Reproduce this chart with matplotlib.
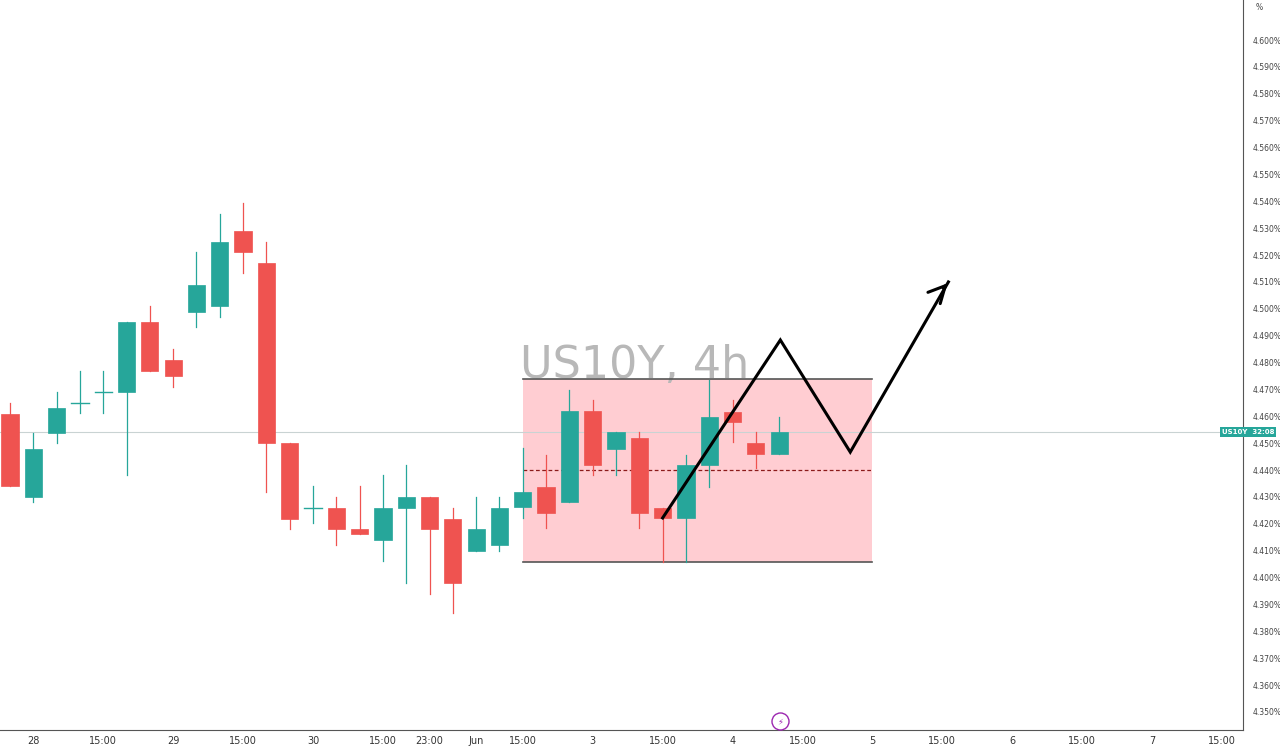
import matplotlib
matplotlib.use("Agg")
import matplotlib.pyplot as plt
from matplotlib.patches import Rectangle

# 4h candles, yields in %
opens = [4.4609, 4.4300, 4.4538, 4.4648, 4.4690, 4.4690, 4.4951, 4.4810, 4.4988, 4.5010,
         4.5289, 4.5170, 4.4500, 4.4259, 4.4259, 4.4181, 4.4140, 4.4259, 4.4300, 4.4218,
         4.4099, 4.4121, 4.4263, 4.4337, 4.4281, 4.4620, 4.4478, 4.4519, 4.4259, 4.4222,
         4.4419, 4.4616, 4.4501, 4.4460]
highs = [4.4650, 4.4538, 4.4690, 4.4769, 4.4769, 4.4951, 4.5010, 4.4850, 4.5211, 4.5353,
         4.5394, 4.5249, 4.4500, 4.4341, 4.4300, 4.4341, 4.4382, 4.4419, 4.4300, 4.4259,
         4.4300, 4.4300, 4.4482, 4.4456, 4.4698, 4.4661, 4.4542, 4.4542, 4.4259, 4.4456,
         4.4735, 4.4661, 4.4542, 4.4597]
lows = [4.4341, 4.4281, 4.4500, 4.4612, 4.4612, 4.4382, 4.4769, 4.4710, 4.4932, 4.4969,
        4.5133, 4.4318, 4.4181, 4.4203, 4.4121, 4.4162, 4.4062, 4.3980, 4.3939, 4.3868,
        4.4099, 4.4100, 4.4222, 4.4185, 4.4281, 4.4382, 4.4382, 4.4185, 4.4058, 4.4058,
        4.4337, 4.4504, 4.4408, 4.4460]
closes = [4.4341, 4.4478, 4.4631, 4.4652, 4.4690, 4.4951, 4.4769, 4.4750, 4.5089, 4.5249,
          4.5211, 4.4500, 4.4218, 4.4259, 4.4181, 4.4162, 4.4259, 4.4300, 4.4181, 4.3980,
          4.4181, 4.4259, 4.4318, 4.4240, 4.4620, 4.4419, 4.4542, 4.4240, 4.4222, 4.4419,
          4.4597, 4.4579, 4.4460, 4.4542]

tick_pos = [1, 4, 7, 10, 13, 16, 18, 20, 22, 25, 28, 31, 34, 37, 40, 43, 46, 49, 52]
tick_labels = ["28", "15:00", "29", "15:00", "30", "15:00", "23:00", "Jun", "15:00", "3",
               "15:00", "4", "15:00", "5", "15:00", "6", "15:00", "7", "15:00"]
y_ticks = [4.35 + 0.01 * k for k in range(26)]

range_box = (22, 37, 4.4058, 4.4739)   # x0, x1, low, high
range_mid = 4.4400
path_x = [28.0, 33.05, 36.05, 40.26]
path_y = [4.4222, 4.4884, 4.4467, 4.5100]
last_price = 4.4542

GREEN = "#26a69a"
RED = "#ef5350"

fig = plt.figure(figsize=(12.8, 7.47), dpi=100)
ax = fig.add_axes([0, 1 - 730 / 747, 1243 / 1280, 730 / 747])
ax.set_xlim(-0.43, 52.9)
ax.set_ylim(4.3433, 4.6149)

# range box
x0, x1, lo, hi = range_box
ax.add_patch(Rectangle((x0, lo), x1 - x0, hi - lo, facecolor="#ffcdd2", edgecolor="none", zorder=1))
ax.plot([x0, x1], [lo, lo], color="#555555", lw=1.2, zorder=2)
ax.plot([x0, x1], [hi, hi], color="#555555", lw=1.2, zorder=2)
ax.plot([x0, x1], [range_mid, range_mid], color="#8b1a1a", lw=0.9, ls=(0, (3, 2)), zorder=2)

ax.text(26.8, 4.4790, "US10Y, 4h", fontsize=32, color="#b8b8b8", ha="center", va="center", zorder=1.5)

ax.axhline(last_price, color="#c9d3d3", lw=0.8, zorder=1.2)

w = 0.74
for i, (o, h, l, c) in enumerate(zip(opens, highs, lows, closes)):
    col = GREEN if c >= o else RED
    ax.plot([i, i], [l, h], color=col, lw=0.9, zorder=3)
    if abs(c - o) < 0.0006:
        ax.plot([i - w / 2, i + w / 2], [o, o], color=col, lw=1.0, zorder=3)
    else:
        ax.add_patch(Rectangle((i - w / 2, min(o, c)), w, abs(c - o), facecolor=col,
                               edgecolor=col, lw=0.5, zorder=3))

ax.plot(path_x, path_y, color="black", lw=2.2, zorder=4, solid_joinstyle="miter")
ax.annotate("", xy=(path_x[-1] + 0.05, path_y[-1] + 0.0003), xytext=(path_x[-1] - 0.3, path_y[-1] - 0.003),
            arrowprops=dict(arrowstyle="->,head_length=1.2,head_width=0.6", color="black", lw=2.2), zorder=4)

ax.set_xticks(tick_pos)
ax.set_xticklabels(tick_labels, fontsize=7, color="#333333")
ax.tick_params(axis="x", length=0, pad=4)
ax.yaxis.tick_right()
ax.set_yticks(y_ticks)
ax.set_yticklabels([f"{v:.3f}%" for v in y_ticks], fontsize=5.5, color="#444444")
ax.tick_params(axis="y", length=0, pad=7)
for s in ["top", "left"]:
    ax.spines[s].set_visible(False)
ax.spines["right"].set_color("#555555")
ax.spines["bottom"].set_color("#555555")
ax.text(1.01, 0.99, "%", transform=ax.transAxes, fontsize=5.5, color="#444444", ha="left", va="center")

ax.text(0.983, last_price, "US10Y  32:08", transform=ax.get_yaxis_transform(), fontsize=5,
        color="white", ha="left", va="center", fontweight="bold",
        bbox=dict(facecolor=GREEN, edgecolor="none", pad=1.5), clip_on=False, zorder=6)

ax.scatter([33.05], [4.3465], s=150, facecolor="white", edgecolor="#9c27b0", lw=1,
           clip_on=False, zorder=5)
ax.text(33.05, 4.3465, "⚡", fontsize=6, color="#9c27b0", ha="center", va="center", zorder=6)

fig.savefig("out.png", dpi=100)
